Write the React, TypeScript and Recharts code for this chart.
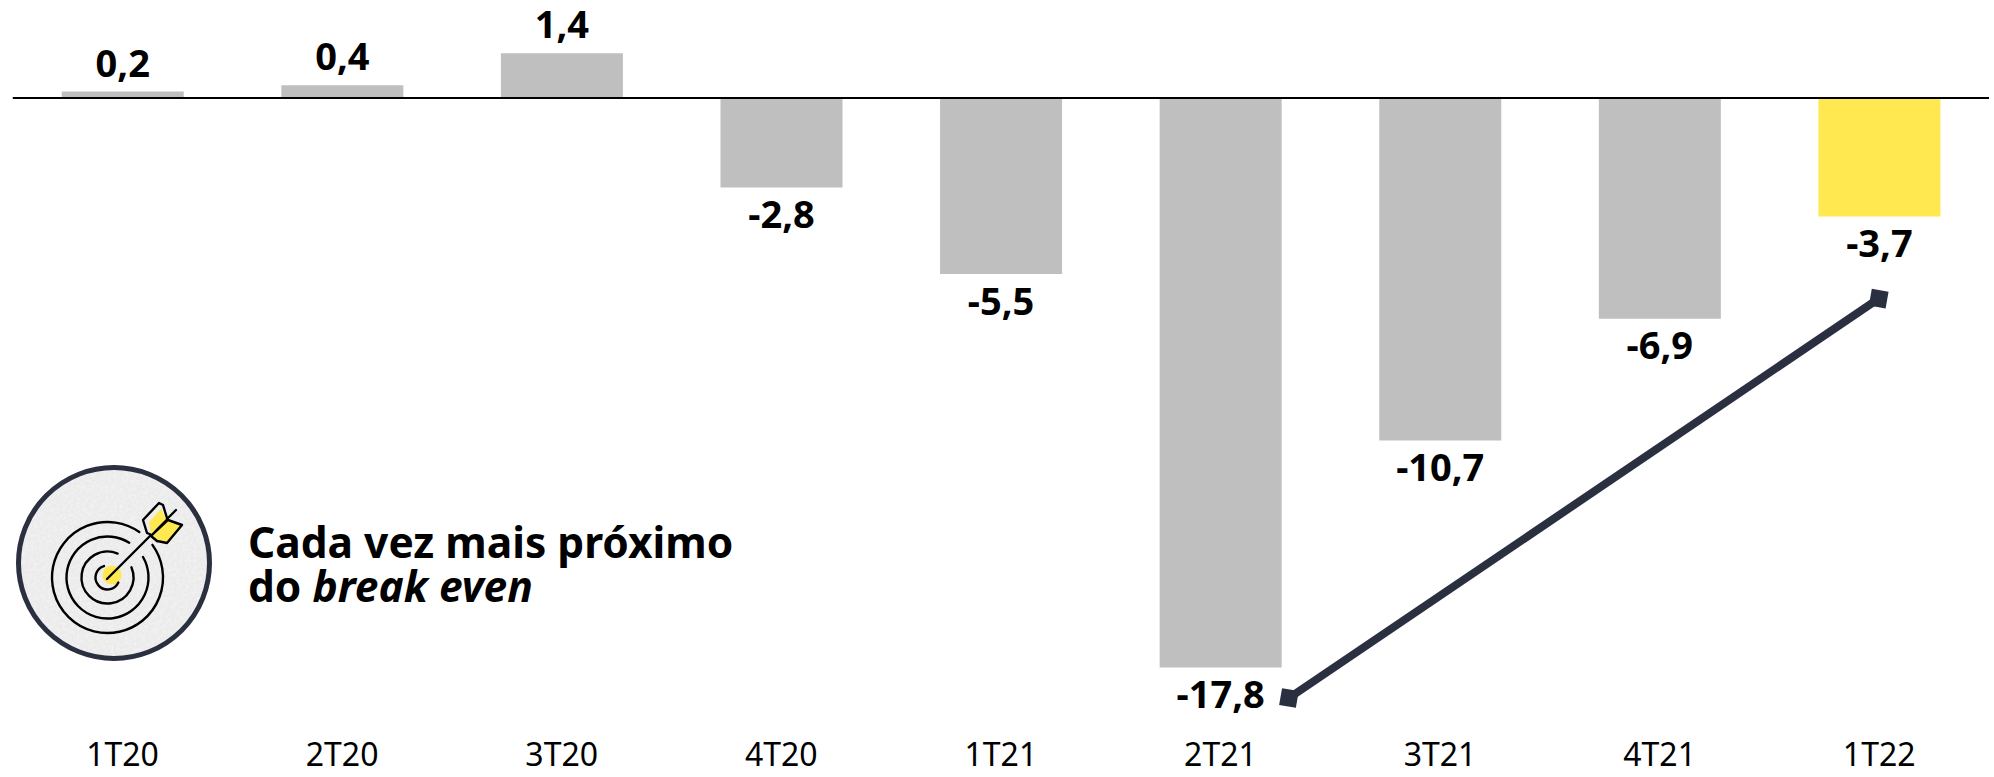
import React from "react";
import { Bar, BarChart, Cell, LabelList, ReferenceLine, XAxis, YAxis } from "recharts";

const quarters = ["1T20", "2T20", "3T20", "4T20", "1T21", "2T21", "3T21", "4T21", "1T22"];
const results = [0.2, 0.4, 1.4, -2.8, -5.5, -17.8, -10.7, -6.9, -3.7];
const barColors = ["#bfbfbf", "#bfbfbf", "#bfbfbf", "#bfbfbf", "#bfbfbf", "#bfbfbf", "#bfbfbf", "#bfbfbf", "#ffe850"];

const chartData = quarters.map((quarter, i) => ({ quarter, result: results[i] }));

const NAVY = "#2a3040";

// label sits outside the bar end, above for gains and below for losses
function ValueLabel(props: any) {
  const { x, y, width, height, value } = props;
  const top = Math.min(y, y + height);
  const bottom = Math.max(y, y + height);
  const cy = value >= 0 ? top - 30 : bottom + 25.5;
  return (
    <text
      x={x + width / 2}
      y={cy}
      textAnchor="middle"
      dominantBaseline="central"
      fontFamily="Noto Sans"
      fontWeight={700}
      fontSize={38}
      fill="#000"
    >
      {String(value).replace(".", ",")}
    </text>
  );
}

// trend arrow between the worst quarter and the latest one
function TrendLine(props: any) {
  const { x1, y1, x2, y2 } = props;
  const startX = x1 + 68.5;
  const endX = x2 - 0.5;
  const square = (cx: number, cy: number) => (
    <rect x={cx - 8.5} y={cy - 8.5} width={17} height={17} fill={NAVY} transform={`rotate(10 ${cx} ${cy})`} />
  );
  return (
    <g>
      <line x1={startX} y1={y1} x2={endX} y2={y2} stroke={NAVY} strokeWidth={8} />
      {square(startX, y1)}
      {square(endX, y2)}
    </g>
  );
}

// target rings: radius plus the two angles (degrees) that bound the gap left for the dart
const targetRings = [
  { r: 55.5, from: -36, to: -55 },
  { r: 41, from: -30, to: -58 },
  { r: 26, from: -23, to: -67 },
  { r: 12, from: 25, to: -107 },
];

function TargetIcon() {
  const cx = 107.5;
  const cy = 577.5;
  const ringPath = ({ r, from, to }: { r: number; from: number; to: number }) => {
    const a0 = (from * Math.PI) / 180;
    const a1 = (to * Math.PI) / 180;
    return `M${cx + r * Math.cos(a0)} ${cy + r * Math.sin(a0)}A${r} ${r} 0 1 1 ${cx + r * Math.cos(a1)} ${cy + r * Math.sin(a1)}`;
  };
  return (
    <svg width={300} height={260} style={{ position: "absolute", left: 0, top: 440 }} viewBox="0 440 300 260">
      <defs>
        <filter id="speckle" x="0" y="0" width="100%" height="100%">
          <feTurbulence type="fractalNoise" baseFrequency="0.35" numOctaves={2} seed={4} />
          <feColorMatrix values="0 0 0 0 1  0 0 0 0 1  0 0 0 0 1  0.9 0 0 0 -0.35" />
          <feComposite in2="SourceGraphic" operator="in" />
          <feMerge>
            <feMergeNode in="SourceGraphic" />
            <feMergeNode />
          </feMerge>
        </filter>
      </defs>
      <circle cx={114} cy={563} r={95.5} fill="#ebebeb" filter="url(#speckle)" />
      <circle cx={114} cy={563} r={95.5} fill="none" stroke={NAVY} strokeWidth={5} />
      <circle cx={112} cy={575} r={9.5} fill="#ffe850" />
      {targetRings.map((ring) => (
        <path key={ring.r} d={ringPath(ring)} fill="none" stroke="#000" strokeWidth={2.4} strokeLinecap="round" />
      ))}
      <line x1={107} y1={579} x2={176} y2={510} stroke="#000" strokeWidth={2.4} strokeLinecap="round" />
      <path d="M143 520 L159 503 L163 505 L167 518 L152 535 L147 533 Z" fill="#eeeeee" stroke="#000" strokeWidth={2.4} strokeLinejoin="round" />
      <path d="M149 522 L161 509 L166 519 L151 534 Z" fill="#ffe850" />
      <path d="M151 536 L168 520 L182 525 L167 543 L157 541 Z" fill="#ffe850" stroke="#000" strokeWidth={2.4} strokeLinejoin="round" />
    </svg>
  );
}

export default function App() {
  return (
    <div style={{ position: "absolute", left: 0, top: 0, width: 1994, height: 777, background: "#fff", overflow: "hidden" }}>
      <BarChart
        width={1994}
        height={777}
        data={chartData}
        margin={{ top: 2, right: 5, bottom: 0, left: 12.75 }}
        barCategoryGap={0}
      >
        <XAxis
          dataKey="quarter"
          axisLine={false}
          tickLine={false}
          interval={0}
          height={51.8}
          tick={{ fontFamily: "Noto Sans", fontSize: 32, fill: "#000" }}
          tickMargin={12}
        />
        <YAxis hide type="number" domain={[-19.6, 3]} allowDataOverflow />
        <Bar dataKey="result" barSize={122} isAnimationActive={false}>
          {results.map((_, i) => (
            <Cell key={quarters[i]} fill={barColors[i]} />
          ))}
          <LabelList dataKey="result" content={ValueLabel} />
        </Bar>
        <ReferenceLine y={0} stroke="#000" strokeWidth={2.2} />
        <ReferenceLine
          segment={[
            { x: "2T21", y: -18.75 },
            { x: "1T22", y: -6.27 },
          ]}
          shape={TrendLine}
        />
      </BarChart>
      <TargetIcon />
      <div
        style={{
          position: "absolute",
          left: 248,
          top: 520,
          fontFamily: "Noto Sans",
          fontWeight: 700,
          fontSize: 42.5,
          lineHeight: "44px",
          color: "#000",
          whiteSpace: "nowrap",
        }}
      >
        Cada vez mais próximo
        <br />
        do <i>break even</i>
      </div>
    </div>
  );
}
